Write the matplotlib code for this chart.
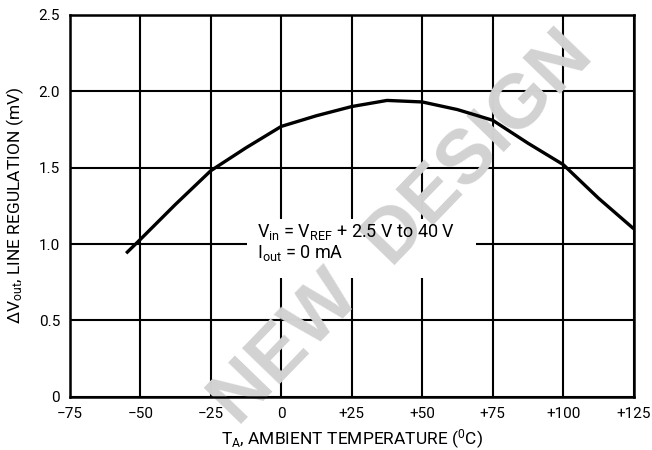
import matplotlib
matplotlib.use("Agg")
import matplotlib.pyplot as plt
from matplotlib.patches import Rectangle

# curve
temps = [-55, -50, -37.5, -25, -12.5, 0, 12.5, 25, 37.5, 50, 62.5, 75, 87.5, 100, 112.5, 125]
line_reg = [0.94, 1.03, 1.26, 1.48, 1.63, 1.77, 1.84, 1.90, 1.94, 1.93, 1.88, 1.81, 1.66, 1.52, 1.30, 1.10]

x_ticks = [-75, -50, -25, 0, 25, 50, 75, 100, 125]
x_labels = ["\u221275", "\u221250", "\u221225", "0", "+25", "+50", "+75", "+100", "+125"]
y_ticks = [0, 0.5, 1.0, 1.5, 2.0, 2.5]
y_labels = ["0", "0.5", "1.0", "1.5", "2.0", "2.5"]

plt.rcParams["font.family"] = ["Roboto", "DejaVu Sans"]
plt.rcParams["mathtext.fontset"] = "custom"
plt.rcParams["mathtext.rm"] = "Roboto"
plt.rcParams["mathtext.it"] = "Roboto"

fig = plt.figure(figsize=(6.52, 4.5), dpi=100)
ax = fig.add_axes([0.107, 0.118, 0.865, 0.849])

ax.set_xlim(-75, 125)
ax.set_ylim(0, 2.5)
ax.set_xticks(x_ticks)
ax.set_xticklabels(x_labels)
ax.set_yticks(y_ticks)
ax.set_yticklabels(y_labels)
ax.tick_params(length=0, labelsize=11, pad=7)
ax.grid(True, color="black", linewidth=1.5)
ax.set_axisbelow(True)
for s in ax.spines.values():
    s.set_linewidth(1.8)

# white mask behind the conditions text
ax.add_patch(Rectangle((0.315, 0.31), 0.405, 0.155, transform=ax.transAxes,
                       facecolor="white", edgecolor="none", zorder=1))

# faint watermark
ax.text(0.59, 0.44, "NEW  DESIGN", transform=ax.transAxes, rotation=46,
        fontsize=55, fontweight="bold", color="#d2d2d2", ha="center", va="center",
        family="Liberation Sans", zorder=2)

ax.plot(temps, line_reg, color="black", linewidth=2.4, zorder=5,
        solid_capstyle="butt")

ax.text(-8.5, 1.08, r"$\mathregular{V_{in}}$ = $\mathregular{V_{REF}}$ + 2.5 V to 40 V",
        fontsize=13, ha="left", va="center", zorder=4)
ax.text(-8.5, 0.94, r"$\mathregular{I_{out}}$ = 0 mA",
        fontsize=13, ha="left", va="center", zorder=4)

ax.set_ylabel(r"$\mathregular{\Delta V_{out}}$, LINE REGULATION (mV)", fontsize=12.5, labelpad=9)
ax.set_xlabel(r"$\mathregular{T_A}$, AMBIENT TEMPERATURE ($\mathregular{^0}$C)", fontsize=12.5, labelpad=5)

fig.savefig("out.png", dpi=100)
